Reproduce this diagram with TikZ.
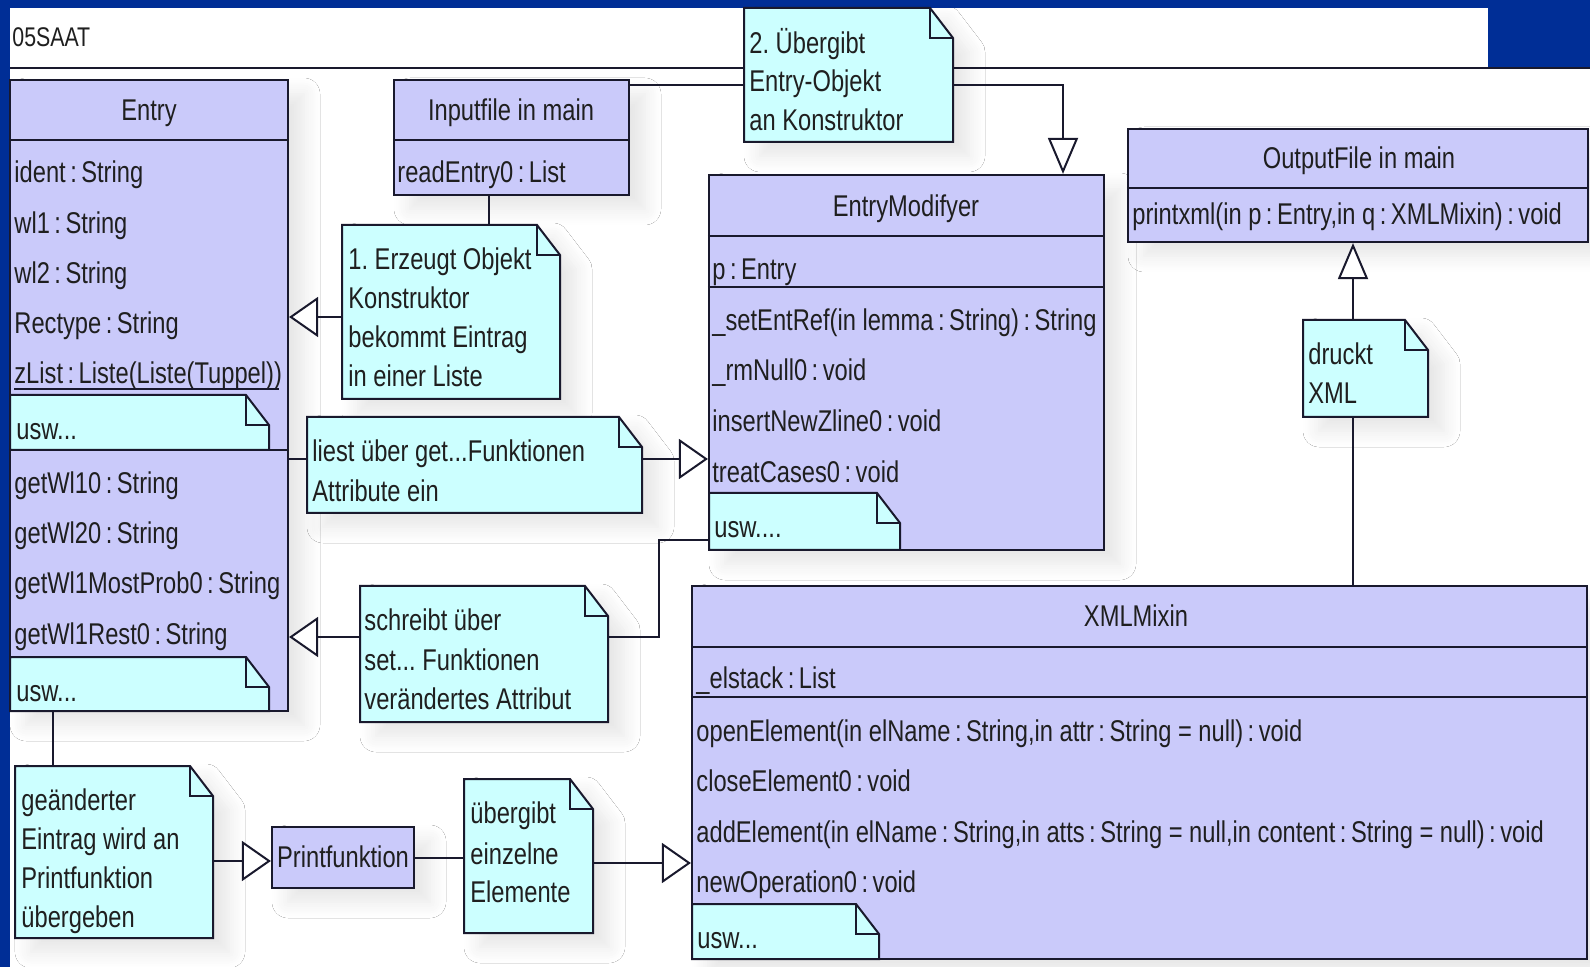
\documentclass[tikz,border=0pt]{standalone}
\usepackage{fontspec}
\setmainfont{Liberation Sans}[FakeStretch=0.79]
\usetikzlibrary{arrows.meta,fit,shadows.blur}
\frenchspacing

\definecolor{bgblue}{RGB}{0,46,150}
\definecolor{classfill}{RGB}{202,202,250}
\definecolor{notefill}{RGB}{204,255,255}
\definecolor{ink}{RGB}{25,25,45}

% tight colon used in member signatures
\newcommand\cln{\hspace{0.15em}:\hspace{0.15em}}

\tikzset{
  shade box/.style={blur shadow={shadow xshift=8pt,shadow yshift=-7pt,shadow blur radius=8pt,shadow blur steps=8,shadow opacity=10}},
  classstyle/.style={draw=ink, line width=1.1pt, fill=classfill, inner sep=0pt},
  areanode/.style={inner sep=0pt},
  compline/.style={draw=ink, line width=1.1pt},
  noteline/.style={draw=ink, line width=1pt, line join=miter},
  txt/.style={anchor=base west, inner sep=0pt, text=black!88, font=\fontsize{15pt}{18pt}\selectfont},
  ctxt/.style={txt, anchor=base},
  link/.style={draw=ink, line width=1pt},
  gen h/.style={link, -{Triangle[length=14.5pt,width=20pt,fill=white]}},
  gen v/.style={link, -{Triangle[length=18pt,width=15pt,fill=white]}},
}

% class box: name, x1, y1, x2, y2
\newcommand\classbox[5]{%
  \path (#2,#3) coordinate (#1-nw) (#4,#5) coordinate (#1-se);
  \node[classstyle, shade box, fit=(#1-nw)(#1-se)] (#1) {};}

% note with folded corner: name, x1, y1, x2, y2, extra options for the fill
\newcommand\notebox[6]{%
  \path[fill=notefill, #6] (#2,#3) -- (#4-23,#3) -- (#4,#3+30) -- (#4,#5) -- (#2,#5) -- cycle;
  \draw[noteline] (#2,#3) -- (#4-23,#3) -- (#4,#3+30) -- (#4,#5) -- (#2,#5) -- cycle;
  \draw[noteline] (#4-23,#3) -- (#4-23,#3+30) -- (#4,#3+30);
  \path (#2,#3) coordinate (#1-nw) (#4,#5) coordinate (#1-se);
  \node[areanode, fit=(#1-nw)(#1-se)] (#1) {};}

\begin{document}
\begin{tikzpicture}[x=0.5pt,y=-0.5pt]
\useasboundingbox (0,0) rectangle (1590,967);

% frame and canvas
\fill[bgblue] (0,0) rectangle (1590,967);
\fill[white] (10,68) rectangle (1590,967);
\fill[white] (10,8) rectangle (1488,68);
\draw[compline] (10,68) -- (1590,68);
\node[txt, font=\fontsize{13.5pt}{16pt}\selectfont] (title) at (12,47) {05SAAT};

% ---------- Entry ----------
\classbox{E}{10}{80}{288}{711}
\draw[compline] (E.west |- 0,140) -- (E.east |- 0,140);
\node[ctxt] (Et) at (149,121) {Entry};
\node[txt] (Ea1) at (14,183) {ident\cln String};
\node[txt] (Ea2) at (14,234) {wl1\cln String};
\node[txt] (Ea3) at (14,284) {wl2\cln String};
\node[txt] (Ea4) at (14,334) {Rectype\cln String};
\node[txt] (Ea5) at (14,384) {zList\cln Liste(Liste(Tuppel))};
\draw[ink, line width=0.8pt] (Ea5.base west) ++(0,5) -- ++(265,0);
\notebox{Eu1}{10}{395}{269}{450}{}
\node[txt] (Eu1t) at (16,440) {usw...};
\draw[compline] (E.west |- 0,450) -- (E.east |- 0,450);
\node[txt] (Eo1) at (14,494) {getWl10\cln String};
\node[txt] (Eo2) at (14,544) {getWl20\cln String};
\node[txt] (Eo3) at (14,594) {getWl1MostProb0\cln String};
\node[txt] (Eo4) at (14,645) {getWl1Rest0\cln String};
\notebox{Eu2}{10}{657}{269}{711}{}
\node[txt] (Eu2t) at (16,701) {usw...};

% ---------- Inputfile in main ----------
\classbox{I}{394}{80}{629}{195}
\draw[compline] (I.west |- 0,140) -- (I.east |- 0,140);
\node[ctxt] (It) at (511,121) {Inputfile in main};
\node[txt] (Io1) at (397,183) {readEntry0\cln List};

% ---------- EntryModifyer ----------
\classbox{M}{709}{175}{1104}{550}
\draw[compline] (M.west |- 0,236) -- (M.east |- 0,236);
\draw[compline] (M.west |- 0,287) -- (M.east |- 0,287);
\node[ctxt] (Mt) at (906,217) {EntryModifyer};
\node[txt] (Ma1) at (712,280) {p\cln Entry};
\node[txt] (Mo1) at (712,331) {\_setEntRef(in lemma\cln String)\cln String};
\node[txt] (Mo2) at (712,381) {\_rmNull0\cln void};
\node[txt] (Mo3) at (712,432) {insertNewZline0\cln void};
\node[txt] (Mo4) at (712,483) {treatCases0\cln void};
\notebox{Mu}{709}{493}{900}{550}{}
\node[txt] (Mut) at (714,538) {usw....};

% ---------- OutputFile in main ----------
\classbox{O}{1128}{129}{1588}{242}
\draw[compline] (O.west |- 0,188) -- (O.east |- 0,188);
\node[ctxt] (Ot) at (1359,169) {OutputFile in main};
\node[txt] (Oo1) at (1132,225) {printxml(in p\cln Entry,in q\cln XMLMixin)\cln void};

% ---------- XMLMixin ----------
\classbox{X}{692}{586}{1587}{959}
\draw[compline] (X.west |- 0,647) -- (X.east |- 0,647);
\draw[compline] (X.west |- 0,697) -- (X.east |- 0,697);
\node[ctxt] (Xt) at (1136,626) {XMLMixin};
\node[txt] (Xa1) at (696,688) {\_elstack\cln List};
\node[txt] (Xo1) at (696,741) {openElement(in elName\cln String,in attr\cln String = null)\cln void};
\node[txt] (Xo2) at (696,791) {closeElement0\cln void};
\node[txt] (Xo3) at (696,842) {addElement(in elName\cln String,in atts\cln String = null,in content\cln String = null)\cln void};
\node[txt] (Xo4) at (696,892) {newOperation0\cln void};
\notebox{Xu}{692}{904}{879}{959}{}
\node[txt] (Xut) at (697,948) {usw...};

% ---------- Printfunktion ----------
\classbox{P}{272}{827}{414}{888}
\node[ctxt] (Pt) at (343,867) {Printfunktion};

% ---------- notes ----------
\notebox{N2}{744}{8}{953}{142}{shade box}
\node[txt] (N2a) at (749,54) {2. Übergibt};
\node[txt] (N2b) at (749,92) {Entry-Objekt};
\node[txt] (N2c) at (749,131) {an Konstruktor};

\notebox{N1}{342}{225}{560}{399}{shade box}
\node[txt] (N1a) at (348,270) {1. Erzeugt Objekt};
\node[txt] (N1b) at (348,309) {Konstruktor};
\node[txt] (N1c) at (348,348) {bekommt Eintrag};
\node[txt] (N1d) at (348,387) {in einer Liste};

\notebox{NL}{307}{417}{642}{513}{shade box}
\node[txt] (NLa) at (312,462) {liest über get...Funktionen};
\node[txt] (NLb) at (312,502) {Attribute ein};

\notebox{NS}{360}{586}{608}{722}{shade box}
\node[txt] (NSa) at (364,631) {schreibt über};
\node[txt] (NSb) at (364,670) {set... Funktionen};
\node[txt] (NSc) at (364,709) {verändertes Attribut};

\notebox{NG}{15}{766}{213}{938}{shade box}
\node[txt] (NGa) at (21,810) {geänderter};
\node[txt] (NGb) at (21,849) {Eintrag wird an};
\node[txt] (NGc) at (21,888) {Printfunktion};
\node[txt] (NGd) at (21,927) {übergeben};

\notebox{NU}{464}{779}{593}{933}{shade box}
\node[txt] (NUa) at (470,823) {übergibt};
\node[txt] (NUb) at (470,864) {einzelne};
\node[txt] (NUc) at (470,902) {Elemente};

\notebox{ND}{1303}{320}{1428}{417}{shade box}
\node[txt] (NDa) at (1308,365) {druckt};
\node[txt] (NDb) at (1308,404) {XML};

% ---------- connectors ----------
\draw[link] (I.east |- 0,85) -- (N2.west |- 0,85);
\draw[gen v] (N2.east |- 0,85) -| (M.north -| 1063,0);
\draw[link] (I.south -| 489,0) -- (N1.north -| 489,0);
\draw[gen h] (N1.west |- 0,317) -- (E.east |- 0,317);
\draw[link] (E.east |- 0,459) -- (NL.west |- 0,459);
\draw[gen h] (NL.east |- 0,459) -- (M.west |- 0,459);
\draw[link] (M.west |- 0,540) -- (659,540) |- (NS.east |- 0,637);
\draw[gen h] (NS.west |- 0,637) -- (E.east |- 0,637);
\draw[link] (E.south -| 53,0) -- (NG.north -| 53,0);
\draw[gen h] (NG.east |- 0,861) -- (P.west |- 0,861);
\draw[link] (P.east |- 0,858) -- (NU.west |- 0,858);
\draw[gen h] (NU.east |- 0,863) -- (X.west |- 0,863);
\draw[link] (X.north -| 1353,0) -- (ND.south -| 1353,0);
\draw[gen v] (ND.north -| 1353,0) -- (O.south -| 1353,0);
\end{tikzpicture}
\end{document}
